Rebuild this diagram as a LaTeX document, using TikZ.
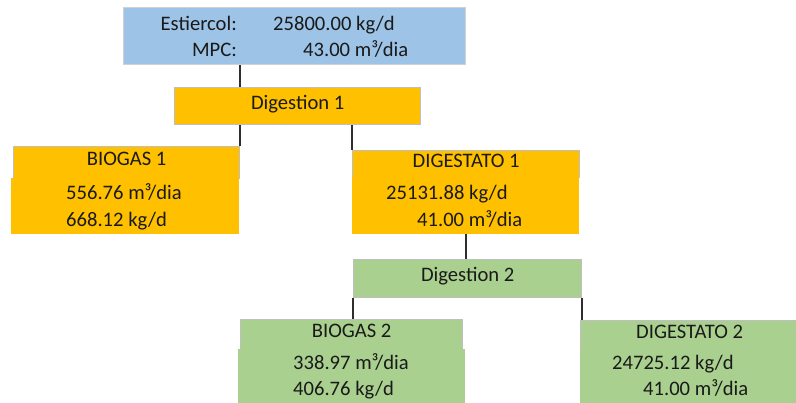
\documentclass[tikz,border=0pt]{standalone}
\usepackage{fontspec}
\setmainfont{Carlito}
\definecolor{srcblue}{HTML}{9DC3E6}
\definecolor{stageorange}{HTML}{FFC000}
\definecolor{stagegreen}{HTML}{A9D08E}
\definecolor{cellgray}{HTML}{BFBFBF}
\definecolor{linkgray}{HTML}{2E2E2E}
\definecolor{ink}{HTML}{1A1A1A}
\begin{document}
\begin{tikzpicture}[x=1pt,y=-1pt,
  every node/.style={text=ink, font=\fontsize{20.6}{24}\selectfont},
  cellbox/.style={draw=cellgray, line width=1.3pt, inner sep=0pt, anchor=north west,
    text height=0.644em, text depth=0pt},
  databox/.style={draw=none, inner sep=0pt, anchor=north west},
  val/.style={inner sep=0pt, anchor=base west},
  lbl/.style={inner sep=0pt, anchor=base east},
  link/.style={draw=linkgray, line width=1.7pt}]
\useasboundingbox (0,0) rectangle (796,403);
\clip (0,0) rectangle (796,403);

% feedstock
\node[cellbox, draw=cellgray!70, line width=0.8pt, fill=srcblue, minimum width=342pt, minimum height=57pt] (src) at (123,7) {};
\node[lbl] (srcl1) at (237,30.5) {Estiercol:};
\node[lbl] (srcl2) at (237,57) {MPC:};
\node[val] (srcv1) at (273,30.5) {25800.00 kg/d};
\node[val] (srcv2) at (303,57) {43.00 m³/dia};

% first digestion stage
\node[cellbox, fill=stageorange, minimum width=246pt, minimum height=37pt] (dig1) at (174,87) {Digestion 1};

\node[cellbox, fill=stageorange, minimum width=226pt, minimum height=32pt] (bio1h) at (13,146) {BIOGAS 1};
\node[databox, fill=stageorange, minimum width=228pt, minimum height=56pt] (bio1d) at (11,178) {};
\node[val] (bio1v1) at (66,199.5) {556.76 m³/dia};
\node[val] (bio1v2) at (66,227) {668.12 kg/d};

\node[cellbox, fill=stageorange, minimum width=227pt, minimum height=27pt] (dat1h) at (352,150) {DIGESTATO 1};
\node[databox, fill=stageorange, minimum width=227pt, minimum height=57pt] (dat1d) at (352,177) {};
\node[val] (dat1v1) at (386,200) {25131.88 kg/d};
\node[val] (dat1v2) at (417,227) {41.00 m³/dia};

% second digestion stage
\node[cellbox, fill=stagegreen, minimum width=228pt, minimum height=38pt] (dig2) at (353,259) {Digestion 2};

\node[cellbox, fill=stagegreen, minimum width=222pt, minimum height=30pt] (bio2h) at (240,319) {BIOGAS 2};
\node[databox, fill=stagegreen, minimum width=227pt, minimum height=60pt] (bio2d) at (238,349) {};
\node[val] (bio2v1) at (293,369.5) {338.97 m³/dia};
\node[val] (bio2v2) at (293,396) {406.76 kg/d};

\node[cellbox, fill=stagegreen, minimum width=218pt, minimum height=29pt] (dat2h) at (580,320) {DIGESTATO 2};
\node[databox, fill=stagegreen, minimum width=220pt, minimum height=60pt] (dat2d) at (580,349) {};
\node[val] (dat2v1) at (612,369.5) {24725.12 kg/d};
\node[val] (dat2v2) at (643,396) {41.00 m³/dia};

% connectors
\draw[link] (src.south -| bio1h.east) -- (dig1.north -| bio1h.east);
\draw[link] (dig1.south -| bio1h.east) -- (bio1h.north east);
\draw[link] (dig1.south -| dat1h.west) -- (dat1h.north west);
\draw[link] (dat1d.south) -- (dat1d.south |- dig2.north);
\draw[link] (dig2.south west) -- (dig2.south west |- bio2h.north);
\draw[link] (dig2.south east) -- (dig2.south east |- dat2h.north);
\end{tikzpicture}
\end{document}
